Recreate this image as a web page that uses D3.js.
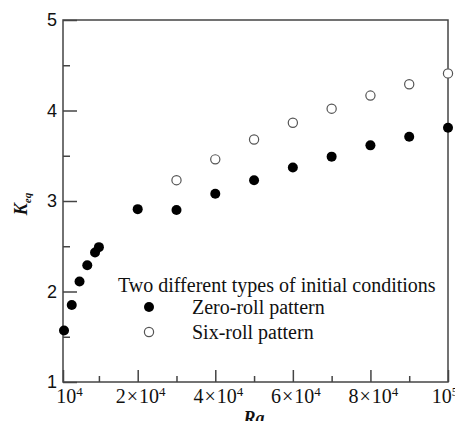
<!DOCTYPE html>
<html>
<head>
<meta charset="utf-8">
<script src="https://cdn.jsdelivr.net/npm/d3@7"></script>
<style>
  html, body { margin: 0; padding: 0; background: #fff; }
  svg { display: block; }
</style>
</head>
<body>
<svg id="chart" width="455" height="421"></svg>
<script>
// ---- data ----
const raZero = [1000, 3000, 5000, 7000, 9000, 10000, 20000, 30000, 40000, 50000, 60000, 70000, 80000, 90000, 100000];
const kZero  = [1.57, 1.85, 2.11, 2.29, 2.43, 2.49, 2.91, 2.90, 3.08, 3.23, 3.37, 3.49, 3.615, 3.71, 3.81];
const raSix  = [30000, 40000, 50000, 60000, 70000, 80000, 90000, 100000];
const kSix   = [3.23, 3.46, 3.68, 3.865, 4.02, 4.165, 4.29, 4.41];
const xMin = 740, xMax = 100000;
const xMajorTicks = [xMin, 20000, 40000, 60000, 80000, 100000];
const xLabelMantissa = ["", "2", "4", "6", "8", ""];
const xLabelExponent = ["4", "4", "4", "4", "4", "5"];
const xMinorTicks = [10000, 30000, 50000, 70000, 90000];
const yMajorTicks = [1, 2, 3, 4, 5];
const yMinorTicks = [1.5, 2.5, 3.5, 4.5];
const legendTitle = "Two different types of initial conditions";
const seriesNames = ["Zero-roll pattern", "Six-roll pattern"];

// ---- layout ----
const L = 63, R = 448, T = 20, B = 382;
const svg = d3.select("#chart");
const x = d3.scaleLinear().domain([xMin, xMax]).range([L, R]);
const y = d3.scaleLinear().domain([1, 5]).range([B, T]);
const axisColor = "#444";
const serif = "'Liberation Serif', 'Times New Roman', serif";

// frame
svg.append("rect").attr("x", L).attr("y", T).attr("width", R - L).attr("height", B - T)
  .attr("fill", "none").attr("stroke", axisColor).attr("stroke-width", 1.5);

// x axis ticks (inward)
const xAxisMajor = d3.axisTop(x).tickValues(xMajorTicks).tickSize(12).tickFormat("");
const xAxisMinor = d3.axisTop(x).tickValues(xMinorTicks).tickSize(6).tickFormat("");
[xAxisMajor, xAxisMinor].forEach(ax => {
  const g = svg.append("g").attr("transform", `translate(0,${B})`).call(ax);
  g.select(".domain").remove();
  g.selectAll("line").attr("stroke", axisColor).attr("stroke-width", 1.5);
});
// x labels
const last = xMajorTicks.length - 1;
const xl = svg.append("g").selectAll("text").data(xMajorTicks).join("text")
  .attr("x", (d, i) => i === 0 ? x(d) + 6.5 : (i === last ? x(d) - 3 : x(d) + 3))
  .attr("y", 403)
  .attr("text-anchor", "middle")
  .attr("font-family", serif)
  .attr("font-size", 20)
  .attr("fill", "#111");
xl.each(function(d, i) {
  const t = d3.select(this);
  if (xLabelMantissa[i]) {
    t.append("tspan").text(xLabelMantissa[i]);
    t.append("tspan").attr("dx", 1).text("×");
    t.append("tspan").attr("dx", 1).text("10");
  } else {
    t.append("tspan").text("10");
  }
  t.append("tspan").attr("font-size", 13).attr("dy", -7).text(xLabelExponent[i]);
});

// y axis ticks (inward)
const yAxisMajor = d3.axisRight(y).tickValues(yMajorTicks).tickSize(14).tickFormat("");
const yAxisMinor = d3.axisRight(y).tickValues(yMinorTicks).tickSize(7).tickFormat("");
[yAxisMajor, yAxisMinor].forEach(ax => {
  const g = svg.append("g").attr("transform", `translate(${L},0)`).call(ax);
  g.select(".domain").remove();
  g.selectAll("line").attr("stroke", axisColor).attr("stroke-width", 1.5);
});
svg.append("g").selectAll("text").data(yMajorTicks).join("text")
  .attr("x", 57).attr("y", d => y(d))
  .attr("dy", "0.36em")
  .attr("text-anchor", "end")
  .attr("font-family", "'Liberation Sans', Arial, sans-serif")
  .attr("font-size", 18)
  .attr("fill", "#111")
  .text(d => d);

// axis titles
svg.append("text")
  .attr("x", 254).attr("y", 424)
  .attr("text-anchor", "middle")
  .attr("font-family", serif)
  .attr("font-size", 18).attr("font-weight", "bold").attr("font-style", "italic")
  .attr("fill", "#111")
  .text("Ra");

const yt = svg.append("text")
  .attr("transform", `translate(27,204) rotate(-90)`)
  .attr("text-anchor", "middle")
  .attr("font-family", serif)
  .attr("font-weight", "bold").attr("font-style", "italic")
  .attr("fill", "#111");
yt.append("tspan").attr("font-size", 18).text("K");
yt.append("tspan").attr("font-size", 11).attr("dy", 4).text("eq");

// points
svg.append("g").selectAll("circle").data(raZero).join("circle")
  .attr("cx", d => x(d)).attr("cy", (d, i) => y(kZero[i]))
  .attr("r", 5).attr("fill", "#000");
svg.append("g").selectAll("circle").data(raSix).join("circle")
  .attr("cx", d => x(d)).attr("cy", (d, i) => y(kSix[i]))
  .attr("r", 4.6).attr("fill", "#fff").attr("stroke", "#555").attr("stroke-width", 1.2);

// legend
svg.append("text").attr("x", 118).attr("y", 292)
  .attr("font-family", serif).attr("font-size", 20).attr("fill", "#111").text(legendTitle);
svg.append("circle").attr("cx", 149).attr("cy", 307).attr("r", 5).attr("fill", "#000");
svg.append("text").attr("x", 192).attr("y", 314)
  .attr("font-family", serif).attr("font-size", 20).attr("fill", "#111").text(seriesNames[0]);
svg.append("circle").attr("cx", 149).attr("cy", 332).attr("r", 4.6)
  .attr("fill", "#fff").attr("stroke", "#555").attr("stroke-width", 1.2);
svg.append("text").attr("x", 192).attr("y", 339)
  .attr("font-family", serif).attr("font-size", 20).attr("fill", "#111").text(seriesNames[1]);
</script>
</body>
</html>
